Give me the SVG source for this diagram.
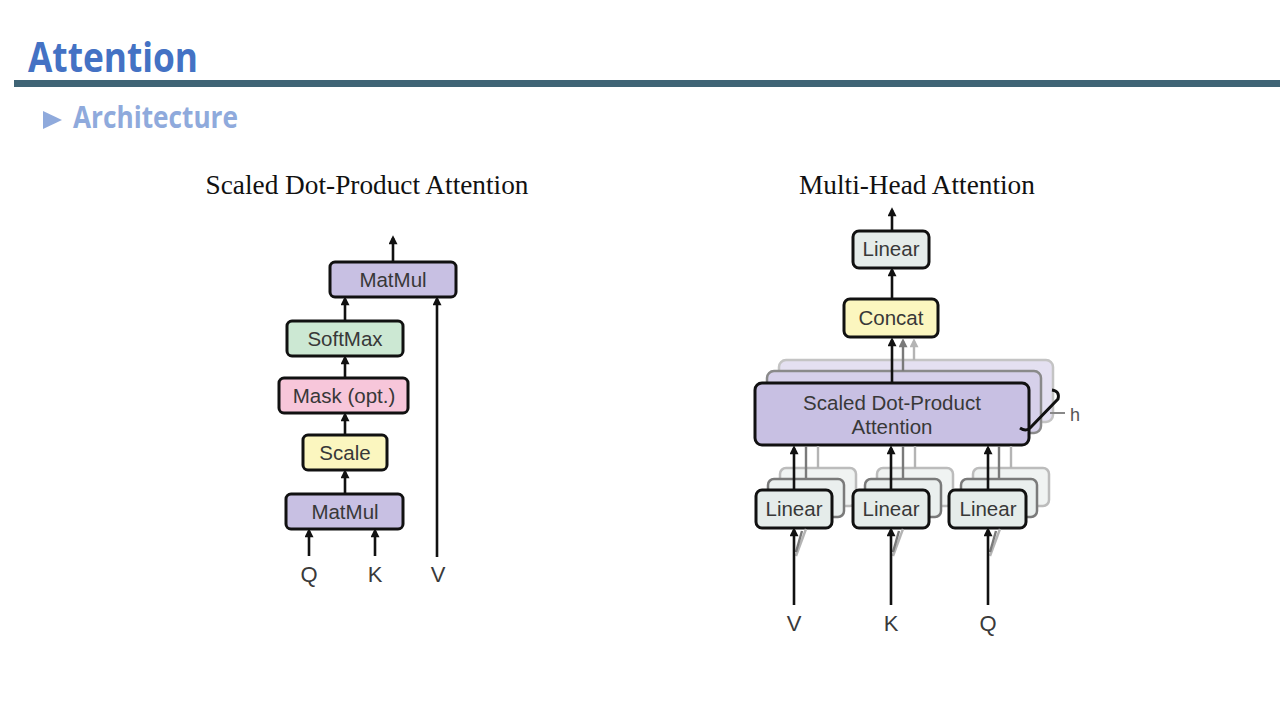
<svg xmlns="http://www.w3.org/2000/svg" width="1280" height="720" viewBox="0 0 1280 720">
<style>
.box{stroke:#111;stroke-width:3}
.lbl{font-family:"Liberation Sans",Arial,sans-serif;font-size:20.5px;fill:#383838;text-anchor:middle}
.io{font-family:"Liberation Sans",Arial,sans-serif;font-size:22px;fill:#3a3a3a;text-anchor:middle}
.ttl{font-family:"Liberation Serif","Times New Roman",serif;font-size:27.3px;fill:#111;text-anchor:middle}
.ln{stroke:#111;stroke-width:2.6;fill:none}
.lg{stroke:#7a7a7a;stroke-width:2.4;fill:none}
.ll{stroke:#b4b4b4;stroke-width:2.4;fill:none}
.purple{fill:#C8C0E3}
.green{fill:#CCE8D3}
.pink{fill:#F7C6DA}
.yellow{fill:#FBF6BF}
.grey{fill:#E5ECEA}
</style>
<defs>
<marker id="ah" viewBox="0 0 10 10" refX="7" refY="5" markerWidth="10" markerHeight="9" markerUnits="userSpaceOnUse" orient="auto"><path d="M0,0 L10,5 L0,10 z" fill="#111"/></marker>
<marker id="ahg" viewBox="0 0 10 10" refX="7" refY="5" markerWidth="10" markerHeight="9" markerUnits="userSpaceOnUse" orient="auto"><path d="M0,0 L10,5 L0,10 z" fill="#7a7a7a"/></marker>
<marker id="ahl" viewBox="0 0 10 10" refX="7" refY="5" markerWidth="10" markerHeight="9" markerUnits="userSpaceOnUse" orient="auto"><path d="M0,0 L10,5 L0,10 z" fill="#b4b4b4"/></marker>
</defs>
<rect width="1280" height="720" fill="#ffffff"/>

<g id="header">
<text x="28" y="72" font-family="'Open Sans','Noto Sans',sans-serif" font-weight="bold" font-size="41" fill="#4472C4" textLength="170" lengthAdjust="spacingAndGlyphs">Attention</text>
<rect x="14" y="80" width="1266" height="7" fill="#3F6475"/>
<polygon points="43,111 62,120 43,129" fill="#8FAADC"/>
<text x="73" y="128" font-family="'Open Sans','Noto Sans',sans-serif" font-weight="bold" font-size="30" fill="#8FAADC" textLength="165" lengthAdjust="spacingAndGlyphs">Architecture</text>
</g>

<g id="titles">
<text class="ttl" x="367" y="194">Scaled Dot-Product Attention</text>
<text class="ttl" x="917" y="194">Multi-Head Attention</text>
</g>

<!-- Left: Scaled Dot-Product Attention -->
<g id="sdpa-matmul-top"><rect class="box purple" x="330" y="262" width="126" height="35" rx="5"/><text class="lbl" x="393" y="287">MatMul</text></g>
<g id="sdpa-softmax"><rect class="box green" x="287" y="321" width="116" height="35" rx="5"/><text class="lbl" x="345" y="346">SoftMax</text></g>
<g id="sdpa-mask"><rect class="box pink" x="279" y="378" width="129" height="35" rx="5"/><text class="lbl" x="344" y="403">Mask (opt.)</text></g>
<g id="sdpa-scale"><rect class="box yellow" x="303" y="435" width="84" height="35" rx="5"/><text class="lbl" x="345" y="460">Scale</text></g>
<g id="sdpa-matmul-bottom"><rect class="box purple" x="286" y="494" width="117" height="35" rx="5"/><text class="lbl" x="345" y="519">MatMul</text></g>
<g id="sdpa-inputs">
<text class="io" x="309" y="582">Q</text>
<text class="io" x="375" y="582">K</text>
<text class="io" x="438" y="582">V</text>
</g>

<!-- Right: Multi-Head Attention, stacked shadows -->
<g id="mha-sdpa">
<rect x="779" y="360" width="274" height="62" rx="7" fill="#E4E0F1" stroke="#c4c4c4" stroke-width="2.5"/>
<rect x="767" y="371" width="274" height="62" rx="7" fill="#D6D0EA" stroke="#8a8a8a" stroke-width="2.5"/>
<rect class="box purple" x="755" y="383" width="274" height="62" rx="7"/>
<text class="lbl" x="892" y="410">Scaled Dot-Product</text>
<text class="lbl" x="892" y="434">Attention</text>
</g>
<g id="mha-h">
<path d="M1052,390 Q1060,391 1058,399 L1030,428 Q1026,432 1020,428" stroke="#111" stroke-width="3" fill="none"/>
<line x1="1050" y1="413" x2="1065" y2="413" stroke="#888" stroke-width="2"/>
<text x="1070" y="421" font-family="'Liberation Sans',Arial,sans-serif" font-size="18" fill="#555">h</text>
</g>
<g id="mha-linear-v">
<rect x="780" y="468" width="76" height="38" rx="6" fill="#F0F3F2" stroke="#bcbcbc" stroke-width="2.5"/>
<rect x="768" y="479" width="76" height="38" rx="6" fill="#EAEFEE" stroke="#7a7a7a" stroke-width="2.5"/>
<rect class="box grey" x="756" y="490" width="76" height="38" rx="6"/>
<text class="lbl" x="794" y="516">Linear</text>
</g>
<g id="mha-linear-k">
<rect x="877" y="468" width="76" height="38" rx="6" fill="#F0F3F2" stroke="#bcbcbc" stroke-width="2.5"/>
<rect x="865" y="479" width="76" height="38" rx="6" fill="#EAEFEE" stroke="#7a7a7a" stroke-width="2.5"/>
<rect class="box grey" x="853" y="490" width="76" height="38" rx="6"/>
<text class="lbl" x="891" y="516">Linear</text>
</g>
<g id="mha-linear-q">
<rect x="973" y="468" width="76" height="38" rx="6" fill="#F0F3F2" stroke="#bcbcbc" stroke-width="2.5"/>
<rect x="961" y="479" width="76" height="38" rx="6" fill="#EAEFEE" stroke="#7a7a7a" stroke-width="2.5"/>
<rect class="box grey" x="949" y="490" width="77" height="38" rx="6"/>
<text class="lbl" x="988" y="516">Linear</text>
</g>
<g id="mha-concat"><rect class="box yellow" x="844" y="299" width="94" height="38" rx="6"/><text class="lbl" x="891" y="325">Concat</text></g>
<g id="mha-linear-out"><rect class="box grey" x="853" y="231" width="76" height="37" rx="6"/><text class="lbl" x="891" y="256">Linear</text></g>
<g id="mha-inputs">
<text class="io" x="794" y="631">V</text>
<text class="io" x="891" y="631">K</text>
<text class="io" x="988" y="631">Q</text>
</g>

<g id="connectors">
<line class="ln" x1="393" y1="262" x2="393" y2="238" marker-end="url(#ah)"/>
<line class="ln" x1="345" y1="321" x2="345" y2="299" marker-end="url(#ah)"/>
<line class="ln" x1="345" y1="378" x2="345" y2="358" marker-end="url(#ah)"/>
<line class="ln" x1="345" y1="435" x2="345" y2="415" marker-end="url(#ah)"/>
<line class="ln" x1="345" y1="494" x2="345" y2="472" marker-end="url(#ah)"/>
<line class="ln" x1="309" y1="556" x2="309" y2="531" marker-end="url(#ah)"/>
<line class="ln" x1="375" y1="556" x2="375" y2="531" marker-end="url(#ah)"/>
<line class="ln" x1="437" y1="557" x2="437" y2="299" marker-end="url(#ah)"/>
<line class="ln" x1="892" y1="231" x2="892" y2="210" marker-end="url(#ah)"/>
<line class="ln" x1="892" y1="299" x2="892" y2="270" marker-end="url(#ah)"/>
<line class="ll" x1="914" y1="360" x2="914" y2="341" marker-end="url(#ahl)"/>
<line class="lg" x1="903" y1="371" x2="903" y2="341" marker-end="url(#ahg)"/>
<line class="ln" x1="892" y1="383" x2="892" y2="340" marker-end="url(#ah)"/>
<line class="ll" x1="818" y1="468" x2="818" y2="446"/>
<line class="lg" x1="806" y1="479" x2="806" y2="446"/>
<line class="ln" x1="794" y1="490" x2="794" y2="448" marker-end="url(#ah)"/>
<line class="ll" x1="915" y1="468" x2="915" y2="446"/>
<line class="lg" x1="903" y1="479" x2="903" y2="446"/>
<line class="ln" x1="891" y1="490" x2="891" y2="448" marker-end="url(#ah)"/>
<line class="ll" x1="1011" y1="468" x2="1011" y2="446"/>
<line class="lg" x1="999" y1="479" x2="999" y2="446"/>
<line class="ln" x1="988" y1="490" x2="988" y2="448" marker-end="url(#ah)"/>
<line class="ll" x1="796" y1="556" x2="806" y2="529"/>
<line class="lg" x1="796" y1="552" x2="802" y2="531"/>
<line class="ln" x1="794" y1="605" x2="794" y2="530" marker-end="url(#ah)"/>
<line class="ll" x1="893" y1="556" x2="903" y2="529"/>
<line class="lg" x1="893" y1="552" x2="899" y2="531"/>
<line class="ln" x1="891" y1="605" x2="891" y2="530" marker-end="url(#ah)"/>
<line class="ll" x1="990" y1="556" x2="1000" y2="529"/>
<line class="lg" x1="990" y1="552" x2="996" y2="531"/>
<line class="ln" x1="988" y1="605" x2="988" y2="530" marker-end="url(#ah)"/>
</g>
</svg>
